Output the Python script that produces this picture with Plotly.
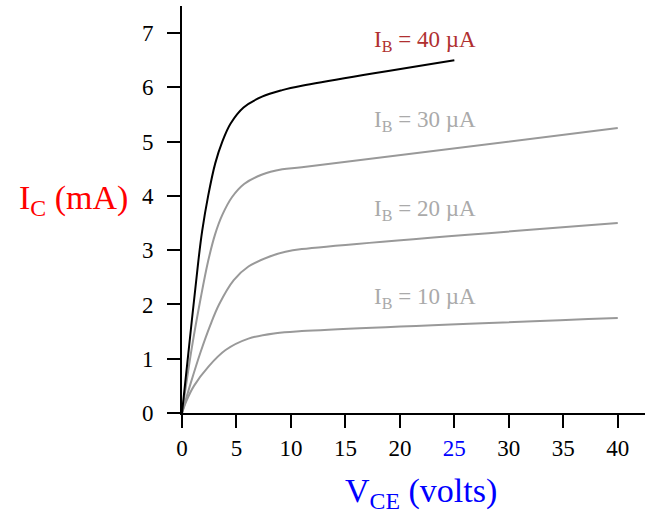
import plotly.graph_objects as go

# ---- data ----
vce_40 = [0, 0.9, 1.5, 1.85, 2.4, 3.05, 3.7, 4.45, 5.65, 7.35, 9.2, 11, 25]
ic_40 = [0, 1.7, 2.8, 3.35, 4.0, 4.6, 5.0, 5.33, 5.63, 5.83, 5.95, 6.03, 6.5]

vce_30 = [0, 0.9, 1.7, 2.4, 3.05, 3.7, 4.6, 5.7, 7.3, 9.2, 11, 40]
ic_30 = [0, 1.2, 2.1, 2.8, 3.3, 3.65, 3.98, 4.22, 4.39, 4.49, 4.53, 5.25]

vce_20 = [0, 0.8, 1.7, 2.6, 3.4, 4.75, 6.1, 8.0, 9.5, 11, 40]
ic_20 = [0, 0.55, 1.12, 1.62, 2.0, 2.45, 2.7, 2.88, 2.97, 3.02, 3.5]

vce_10 = [0, 0.4, 1.1, 2.45, 4.0, 6.1, 8.6, 11, 40]
ic_10 = [0, 0.22, 0.5, 0.86, 1.16, 1.37, 1.47, 1.51, 1.75]

curve_labels = ["I<sub>B</sub> = 40 \u00b5A", "I<sub>B</sub> = 30 \u00b5A",
                "I<sub>B</sub> = 20 \u00b5A", "I<sub>B</sub> = 10 \u00b5A"]
label_x = [17.4, 17.4, 17.4, 17.4]
label_y = [6.86, 5.38, 3.74, 2.12]

x_ticks = [0, 5, 10, 15, 20, 25, 30, 35, 40]
x_ticktext = ["0", "5", "10", "15", "20", "<span style='color:#0000ff'>25</span>", "30", "35", "40"]
y_ticks = [0, 1, 2, 3, 4, 5, 6, 7]

FONT = "Liberation Serif, Times New Roman, serif"
GRAY = "#999999"

fig = go.Figure()
for xs, ys, col in [(vce_10, ic_10, GRAY), (vce_20, ic_20, GRAY), (vce_30, ic_30, GRAY), (vce_40, ic_40, "#000000")]:
    fig.add_trace(go.Scatter(x=xs, y=ys, mode="lines",
                             line=dict(color=col, width=2, shape="spline", smoothing=1.0),
                             hoverinfo="skip", showlegend=False))

label_colors = ["#b03030", "#aaaaaa", "#aaaaaa", "#aaaaaa"]
for txt, lx, ly, c in zip(curve_labels, label_x, label_y, label_colors):
    fig.add_annotation(x=lx, y=ly, xref="x", yref="y", text=txt, showarrow=False,
                       xanchor="left", yanchor="middle",
                       font=dict(family=FONT, size=23, color=c))

W, H = 655, 517
ML, MR, MT, MB = 182, 10, 6, 104
pw, ph = W - ML - MR, H - MT - MB


def px_to_paper(px, py):
    return (px - ML) / pw, (H - MB - py) / ph


tx, ty = px_to_paper(17, 200)
fig.add_annotation(x=tx, y=ty, xref="paper", yref="paper", text="I<sub>C</sub> (mA)",
                   showarrow=False, xanchor="left", yanchor="middle",
                   font=dict(family=FONT, size=34, color="#ff0000"))
tx, ty = px_to_paper(421, 493)
fig.add_annotation(x=tx, y=ty, xref="paper", yref="paper", text="V<sub>CE</sub> (volts)",
                   showarrow=False, xanchor="center", yanchor="middle",
                   font=dict(family=FONT, size=34, color="#0000ff"))

axis_common = dict(showline=True, linecolor="#000000", linewidth=2, ticks="outside",
                   ticklen=13, tickwidth=2, tickcolor="#000000", showgrid=False,
                   zeroline=False, tickfont=dict(family=FONT, size=23, color="#000000"))
fig.update_xaxes(range=[0, 42.5], tickvals=x_ticks, ticktext=x_ticktext, **axis_common)
fig.update_yaxes(range=[0, 7.5], tickvals=y_ticks, ticklabelstandoff=9, **axis_common)

fig.update_layout(width=W, height=H, margin=dict(l=ML, r=MR, t=MT, b=MB),
                  plot_bgcolor="#ffffff", paper_bgcolor="#ffffff")

fig.write_html("out.html", config={"displayModeBar": False},
               post_script="document.body.style.margin='0';")
